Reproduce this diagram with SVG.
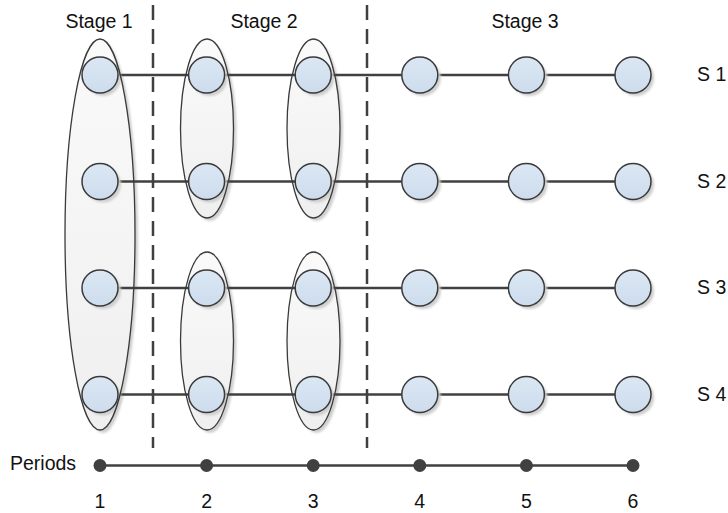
<svg xmlns="http://www.w3.org/2000/svg" width="728" height="513" viewBox="0 0 728 513">
  <defs>
    <linearGradient id="nodeFill" x1="0" y1="0" x2="0" y2="1">
      <stop offset="0" stop-color="#dbe7f3"/>
      <stop offset="1" stop-color="#cddced"/>
    </linearGradient>
    <linearGradient id="groupFill" x1="0" y1="0" x2="0" y2="1">
      <stop offset="0" stop-color="#fafafa"/>
      <stop offset="1" stop-color="#efefef"/>
    </linearGradient>
    <filter id="soft" x="-20%" y="-20%" width="140%" height="140%">
      <feGaussianBlur stdDeviation="1.2"/>
    </filter>
  </defs>
  <style>
    .lbl { font-family: "Liberation Sans", Arial, sans-serif; font-size: 19.5px; fill: #111; }
    .grp { fill: url(#groupFill); }
    .grp-edge { fill: none; stroke: #3a3a3a; stroke-width: 1.3; }
    .shadow { fill: #cfcfcf; filter: url(#soft); }
    .node { fill: url(#nodeFill); stroke: #3a3a3a; stroke-width: 1.5; }
    .link { stroke: #404040; stroke-width: 2.7; fill: none; }
    .divider { stroke: #404040; stroke-width: 2.5; stroke-dasharray: 15 9; fill: none; }
    .tick { fill: #404040; }
  </style>

  <!-- stage headings -->
  <text class="lbl" x="99" y="28" text-anchor="middle">Stage 1</text>
  <text class="lbl" x="264" y="28" text-anchor="middle">Stage 2</text>
  <text class="lbl" x="525" y="28" text-anchor="middle">Stage 3</text>

  <!-- grouping ellipses: shadow + fill -->
  <g id="groups-fill">
    <ellipse class="shadow" cx="103" cy="237.5" rx="35" ry="195.5"/>
    <ellipse class="grp" cx="100" cy="234.5" rx="35" ry="195.5"/>
    <ellipse class="shadow" cx="210" cy="131.5" rx="26.5" ry="89.5"/>
    <ellipse class="grp" cx="207" cy="128.5" rx="26.5" ry="89.5"/>
    <ellipse class="shadow" cx="316.5" cy="131.5" rx="26.5" ry="89.5"/>
    <ellipse class="grp" cx="313.5" cy="128.5" rx="26.5" ry="89.5"/>
    <ellipse class="shadow" cx="210" cy="344" rx="26.5" ry="89"/>
    <ellipse class="grp" cx="207" cy="341" rx="26.5" ry="89"/>
    <ellipse class="shadow" cx="316.5" cy="344" rx="26.5" ry="89"/>
    <ellipse class="grp" cx="313.5" cy="341" rx="26.5" ry="89"/>
  </g>

  <!-- connectors -->
  <g id="connectors">
    <line class="link" x1="100" y1="75" x2="633" y2="75"/>
    <line class="link" x1="100" y1="181.5" x2="633" y2="181.5"/>
    <line class="link" x1="100" y1="288" x2="633" y2="288"/>
    <line class="link" x1="100" y1="394.5" x2="633" y2="394.5"/>
    <line class="divider" x1="153" y1="5" x2="153" y2="448"/>
    <line class="divider" x1="367" y1="5" x2="367" y2="448"/>
    <line class="link" x1="100" y1="465.5" x2="633" y2="465.5"/>
  </g>

  <!-- scenario nodes -->
  <g id="s1-nodes">
    <g id="n1-1"><circle class="shadow" cx="103" cy="78" r="18"/><circle class="node" cx="100" cy="75" r="18"/></g>
    <g id="n1-2"><circle class="shadow" cx="209.6" cy="78" r="18"/><circle class="node" cx="206.6" cy="75" r="18"/></g>
    <g id="n1-3"><circle class="shadow" cx="316.2" cy="78" r="18"/><circle class="node" cx="313.2" cy="75" r="18"/></g>
    <g id="n1-4"><circle class="shadow" cx="422.8" cy="78" r="18"/><circle class="node" cx="419.8" cy="75" r="18"/></g>
    <g id="n1-5"><circle class="shadow" cx="529.4" cy="78" r="18"/><circle class="node" cx="526.4" cy="75" r="18"/></g>
    <g id="n1-6"><circle class="shadow" cx="636" cy="78" r="18"/><circle class="node" cx="633" cy="75" r="18"/></g>
  </g>
  <g id="s2-nodes">
    <g id="n2-1"><circle class="shadow" cx="103" cy="184.5" r="18"/><circle class="node" cx="100" cy="181.5" r="18"/></g>
    <g id="n2-2"><circle class="shadow" cx="209.6" cy="184.5" r="18"/><circle class="node" cx="206.6" cy="181.5" r="18"/></g>
    <g id="n2-3"><circle class="shadow" cx="316.2" cy="184.5" r="18"/><circle class="node" cx="313.2" cy="181.5" r="18"/></g>
    <g id="n2-4"><circle class="shadow" cx="422.8" cy="184.5" r="18"/><circle class="node" cx="419.8" cy="181.5" r="18"/></g>
    <g id="n2-5"><circle class="shadow" cx="529.4" cy="184.5" r="18"/><circle class="node" cx="526.4" cy="181.5" r="18"/></g>
    <g id="n2-6"><circle class="shadow" cx="636" cy="184.5" r="18"/><circle class="node" cx="633" cy="181.5" r="18"/></g>
  </g>
  <g id="s3-nodes">
    <g id="n3-1"><circle class="shadow" cx="103" cy="291" r="18"/><circle class="node" cx="100" cy="288" r="18"/></g>
    <g id="n3-2"><circle class="shadow" cx="209.6" cy="291" r="18"/><circle class="node" cx="206.6" cy="288" r="18"/></g>
    <g id="n3-3"><circle class="shadow" cx="316.2" cy="291" r="18"/><circle class="node" cx="313.2" cy="288" r="18"/></g>
    <g id="n3-4"><circle class="shadow" cx="422.8" cy="291" r="18"/><circle class="node" cx="419.8" cy="288" r="18"/></g>
    <g id="n3-5"><circle class="shadow" cx="529.4" cy="291" r="18"/><circle class="node" cx="526.4" cy="288" r="18"/></g>
    <g id="n3-6"><circle class="shadow" cx="636" cy="291" r="18"/><circle class="node" cx="633" cy="288" r="18"/></g>
  </g>
  <g id="s4-nodes">
    <g id="n4-1"><circle class="shadow" cx="103" cy="397.5" r="18"/><circle class="node" cx="100" cy="394.5" r="18"/></g>
    <g id="n4-2"><circle class="shadow" cx="209.6" cy="397.5" r="18"/><circle class="node" cx="206.6" cy="394.5" r="18"/></g>
    <g id="n4-3"><circle class="shadow" cx="316.2" cy="397.5" r="18"/><circle class="node" cx="313.2" cy="394.5" r="18"/></g>
    <g id="n4-4"><circle class="shadow" cx="422.8" cy="397.5" r="18"/><circle class="node" cx="419.8" cy="394.5" r="18"/></g>
    <g id="n4-5"><circle class="shadow" cx="529.4" cy="397.5" r="18"/><circle class="node" cx="526.4" cy="394.5" r="18"/></g>
    <g id="n4-6"><circle class="shadow" cx="636" cy="397.5" r="18"/><circle class="node" cx="633" cy="394.5" r="18"/></g>
  </g>

  <!-- grouping ellipse outlines drawn over the nodes -->
  <g id="groups-edge">
    <ellipse class="grp-edge" cx="100" cy="234.5" rx="35" ry="195.5"/>
    <ellipse class="grp-edge" cx="207" cy="128.5" rx="26.5" ry="89.5"/>
    <ellipse class="grp-edge" cx="313.5" cy="128.5" rx="26.5" ry="89.5"/>
    <ellipse class="grp-edge" cx="207" cy="341" rx="26.5" ry="89"/>
    <ellipse class="grp-edge" cx="313.5" cy="341" rx="26.5" ry="89"/>
  </g>

  <!-- scenario labels -->
  <text class="lbl" x="697" y="81">S 1</text>
  <text class="lbl" x="697" y="188">S 2</text>
  <text class="lbl" x="697" y="294">S 3</text>
  <text class="lbl" x="697" y="401">S 4</text>

  <!-- period axis -->
  <g id="periods">
    <text class="lbl" x="10" y="470">Periods</text>
    <circle class="tick" cx="100" cy="465.5" r="6.5"/>
    <circle class="tick" cx="206.6" cy="465.5" r="6.5"/>
    <circle class="tick" cx="313.2" cy="465.5" r="6.5"/>
    <circle class="tick" cx="419.8" cy="465.5" r="6.5"/>
    <circle class="tick" cx="526.4" cy="465.5" r="6.5"/>
    <circle class="tick" cx="633" cy="465.5" r="6.5"/>
    <text class="lbl" x="100" y="508" text-anchor="middle" font-size="21">1</text>
    <text class="lbl" x="206.6" y="508" text-anchor="middle">2</text>
    <text class="lbl" x="313.2" y="508" text-anchor="middle">3</text>
    <text class="lbl" x="419.8" y="508" text-anchor="middle">4</text>
    <text class="lbl" x="526.4" y="508" text-anchor="middle">5</text>
    <text class="lbl" x="633" y="508" text-anchor="middle">6</text>
  </g>
</svg>
